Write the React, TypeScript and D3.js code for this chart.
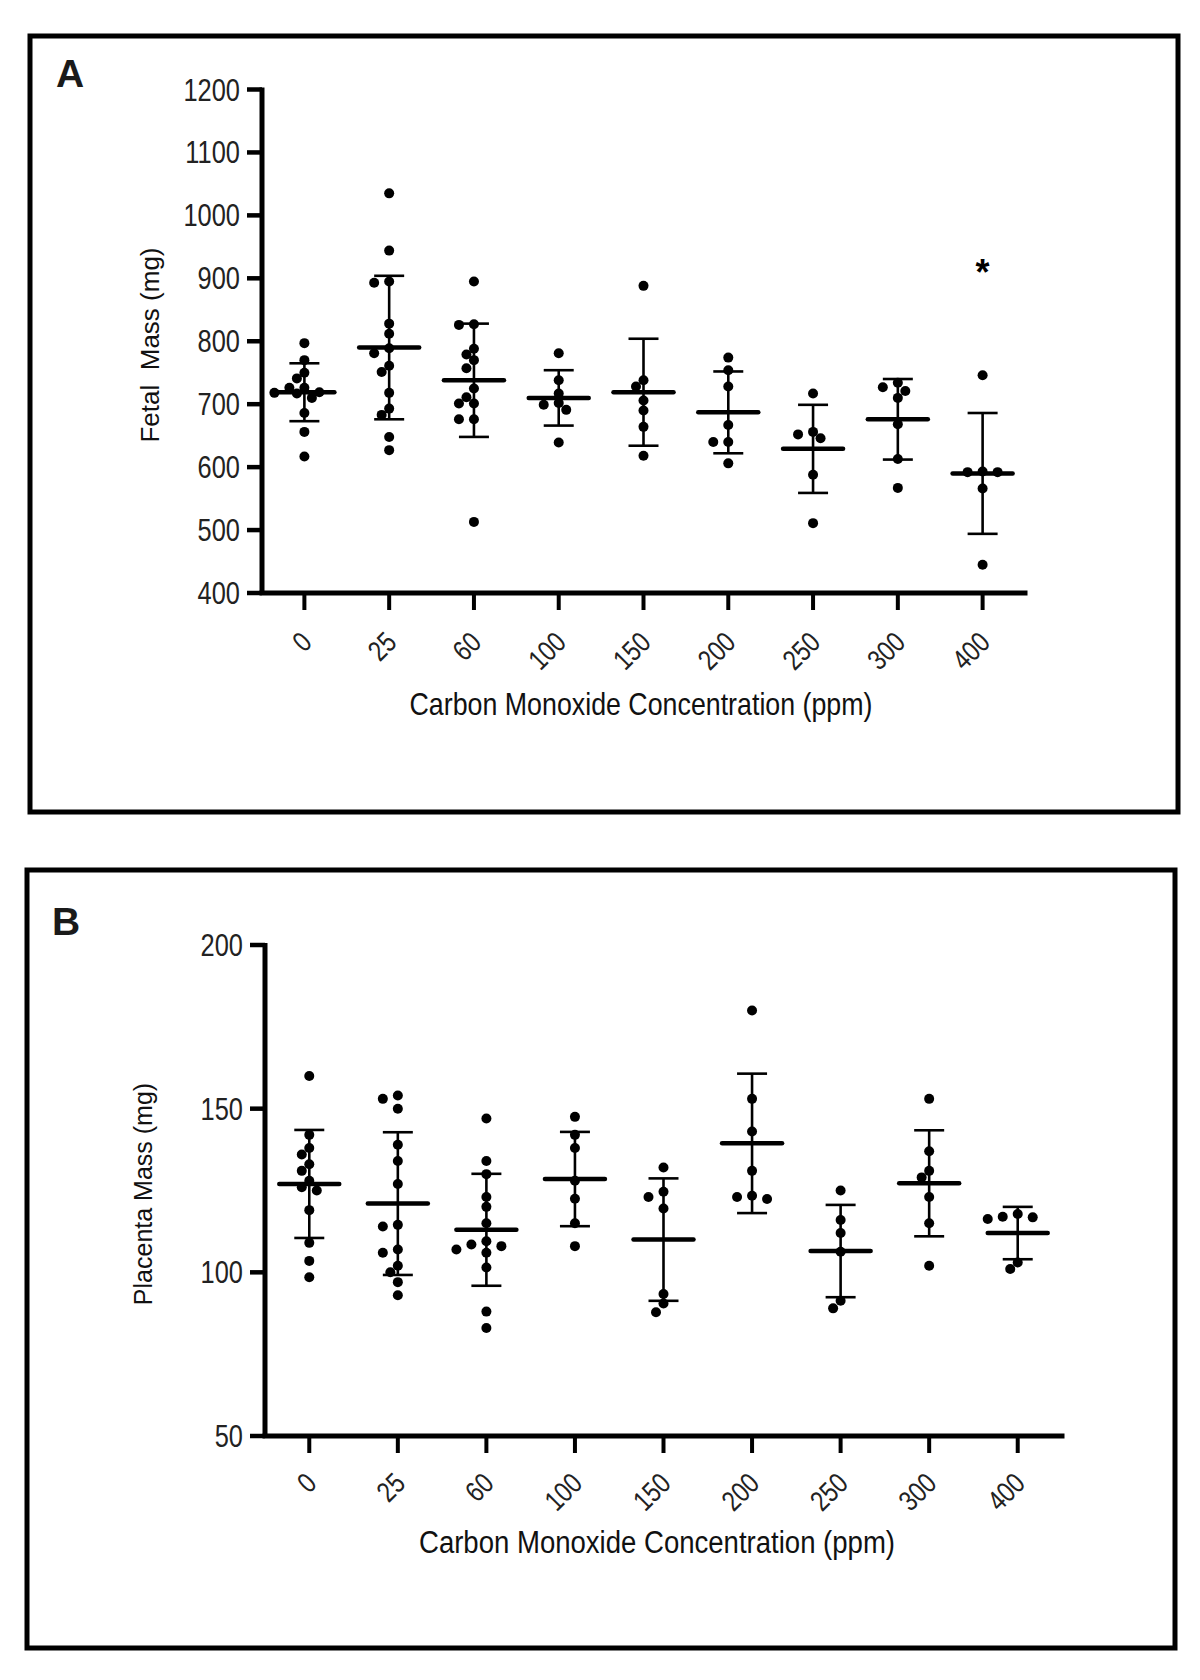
import React from "react";
import * as d3 from "d3";

// ---------- data ----------
const concentrations = ["0", "25", "60", "100", "150", "200", "250", "300", "400"];

// Panel A: fetal mass (mg), individual fetuses per group
const fetal0 = [797, 770, 750, 741, 726, 726, 719, 718, 717, 710, 686, 656, 617];
const fetal25 = [1035, 944, 895, 893, 828, 812, 789, 781, 761, 751, 718, 693, 683, 648, 627];
const fetal60 = [895, 827, 826, 788, 779, 770, 757, 725, 711, 701, 701, 676, 676, 513];
const fetal100 = [781, 738, 717, 702, 699, 691, 639];
const fetal150 = [888, 738, 728, 706, 690, 664, 618];
const fetal200 = [774, 754, 728, 667, 640, 640, 606];
const fetal250 = [717, 656, 652, 646, 588, 511];
const fetal300 = [734, 727, 721, 710, 668, 613, 567];
const fetal400 = [746, 593, 592, 592, 566, 445];
const fetalMean = [719, 790, 738, 710, 719, 687, 629, 676, 590];
const fetalSD = [46, 114, 90, 44, 85, 65, 70, 64, 96];
const fetalTicks = [400, 500, 600, 700, 800, 900, 1000, 1100, 1200];
const fetalSignificant = ["400"];

// Panel B: placenta mass (mg)
const plac0 = [160, 142, 138, 136, 133, 131, 128, 126, 125, 119, 109, 103.5, 98.5];
const plac25 = [154, 153, 150, 139, 134, 127, 114.5, 114, 107, 106, 102, 100, 97, 93];
const plac60 = [147, 134, 130, 123, 120, 115, 109.5, 108.5, 108, 107, 106, 101.5, 88, 83];
const plac100 = [147.5, 142, 138, 128, 122.5, 115, 108];
const plac150 = [132, 124.6, 123, 119.5, 93.4, 90.5, 87.8];
const plac200 = [180, 153, 143, 131, 123.4, 123, 122.4];
const plac250 = [125, 116, 112, 106.3, 91.3, 89];
const plac300 = [153, 137, 131, 129, 123, 115, 102];
const plac400 = [117.8, 117, 116.8, 116.3, 103, 101];
const placMean = [127, 121, 113, 128.5, 110, 139.4, 106.5, 127.2, 112];
const placSD = [16.5, 21.8, 17.1, 14.4, 18.7, 21.3, 14.1, 16.2, 8];
const placTicks = [50, 100, 150, 200];

const fetalGroups = [fetal0, fetal25, fetal60, fetal100, fetal150, fetal200, fetal250, fetal300, fetal400];
const placGroups = [plac0, plac25, plac60, plac100, plac150, plac200, plac250, plac300, plac400];

// ---------- layout ----------
const REG = "'Liberation Sans', Arial, sans-serif";
const CONDENSE = 0.82;

type PanelCfg = {
  letter: string;
  frame: { x: number; y: number; w: number; h: number };
  letterPos: [number, number];
  xRange: [number, number];
  yRange: [number, number];
  domain: [number, number];
  ticks: number[];
  groups: number[][];
  means: number[];
  sds: number[];
  yTitle: string;
  yTitlePos: [number, number];
  yTitleSize: number;
  xTitlePos: [number, number];
  xTitleSize: number;
  xTitleLen: number;
  xLabelDy: number;
  significant: string[];
};

const panels: PanelCfg[] = [
  {
    letter: "A",
    frame: { x: 30, y: 36, w: 1148, h: 776 },
    letterPos: [56, 87],
    xRange: [262, 1025],
    yRange: [593, 89.5],
    domain: [400, 1200],
    ticks: fetalTicks,
    groups: fetalGroups,
    means: fetalMean,
    sds: fetalSD,
    yTitle: "Fetal  Mass (mg)",
    yTitlePos: [159, 345],
    yTitleSize: 26,
    xTitlePos: [641, 715],
    xTitleSize: 32,
    xTitleLen: 463,
    xLabelDy: 51,
    significant: fetalSignificant,
  },
  {
    letter: "B",
    frame: { x: 27, y: 870, w: 1148, h: 778 },
    letterPos: [52, 935],
    xRange: [265, 1062],
    yRange: [1436, 945],
    domain: [50, 200],
    ticks: placTicks,
    groups: placGroups,
    means: placMean,
    sds: placSD,
    yTitle: "Placenta Mass (mg)",
    yTitlePos: [152, 1194],
    yTitleSize: 25,
    xTitlePos: [657, 1553],
    xTitleSize: 31,
    xTitleLen: 476,
    xLabelDy: 49,
    significant: [],
  },
];

function swarm(ys: number[], step: number, minDist: number): number[] {
  const placed: { dx: number; y: number }[] = [];
  const out: number[] = [];
  ys.forEach((y) => {
    let chosen = 0;
    for (let k = 0; k < 40; k++) {
      const n = Math.ceil(k / 2) * (k % 2 === 1 ? -1 : 1);
      const dx = n * step;
      const ok = placed.every((p) => (p.dx - dx) ** 2 + (p.y - y) ** 2 >= minDist * minDist);
      if (ok) {
        chosen = dx;
        break;
      }
    }
    placed.push({ dx: chosen, y });
    out.push(chosen);
  });
  return out;
}

function Panel({ cfg }: { cfg: PanelCfg }) {
  const x = d3.scalePoint<string>().domain(concentrations).range(cfg.xRange).padding(0.5);
  const y = d3.scaleLinear().domain(cfg.domain).range(cfg.yRange);
  const axisX = cfg.xRange[0];
  const axisY = cfg.yRange[0];
  const topY = cfg.yRange[1];
  const f = cfg.frame;
  return (
    <g>
      <rect x={f.x} y={f.y} width={f.w} height={f.h} fill="none" stroke="#000" strokeWidth={5} />
      <text x={cfg.letterPos[0]} y={cfg.letterPos[1]} fontFamily={REG} fontWeight="bold" fontSize={39} fill="#1a1a1a">
        {cfg.letter}
      </text>
      {/* axes */}
      <line x1={axisX} x2={axisX} y1={topY - 2} y2={axisY} stroke="#000" strokeWidth={5} />
      <line x1={axisX} x2={cfg.xRange[1]} y1={axisY} y2={axisY} stroke="#000" strokeWidth={5} strokeLinecap="square" />
      {cfg.ticks.map((t) => (
        <g key={"yt" + t}>
          <line x1={axisX - 15} x2={axisX} y1={y(t)} y2={y(t)} stroke="#000" strokeWidth={4.5} />
          <g transform={`translate(${axisX - 22},${y(t) + 11}) scale(${CONDENSE},1)`}>
            <text textAnchor="end" fontFamily={REG} fontSize={31} fill="#222">
              {t}
            </text>
          </g>
        </g>
      ))}
      {concentrations.map((c) => (
        <g key={"xt" + c}>
          <line x1={x(c)} x2={x(c)} y1={axisY} y2={axisY + 17} stroke="#000" strokeWidth={4} />
          <g transform={`translate(${(x(c) as number) + 9},${axisY + cfg.xLabelDy}) rotate(-45) scale(${CONDENSE},1)`}>
            <text textAnchor="end" fontFamily={REG} fontSize={28.5} fill="#222">
              {c}
            </text>
          </g>
        </g>
      ))}
      <text
        x={cfg.xTitlePos[0]}
        y={cfg.xTitlePos[1]}
        textAnchor="middle"
        fontFamily={REG}
        fontSize={cfg.xTitleSize}
        textLength={cfg.xTitleLen}
        lengthAdjust="spacingAndGlyphs"
        fill="#111"
      >
        Carbon Monoxide Concentration (ppm)
      </text>
      <text
        transform={`translate(${cfg.yTitlePos[0]},${cfg.yTitlePos[1]}) rotate(-90)`}
        textAnchor="middle"
        fontFamily={REG}
        fontSize={cfg.yTitleSize}
        fill="#111"
        style={{ whiteSpace: "pre" }}
      >
        {cfg.yTitle}
      </text>
      {/* data */}
      {cfg.groups.map((vals, i) => {
        const c = concentrations[i];
        const cx = x(c) as number;
        const ys = vals.map((v) => y(v));
        const offs = swarm(ys, 7.5, 9.2);
        const m = cfg.means[i];
        const sd = cfg.sds[i];
        return (
          <g key={"g" + c}>
            <line x1={cx} x2={cx} y1={y(m + sd)} y2={y(m - sd)} stroke="#000" strokeWidth={2.6} />
            <line x1={cx - 15} x2={cx + 15} y1={y(m + sd)} y2={y(m + sd)} stroke="#000" strokeWidth={2.6} />
            <line x1={cx - 15} x2={cx + 15} y1={y(m - sd)} y2={y(m - sd)} stroke="#000" strokeWidth={2.6} />
            <line x1={cx - 30} x2={cx + 30} y1={y(m)} y2={y(m)} stroke="#000" strokeWidth={4.5} strokeLinecap="round" />
            {ys.map((yy, j) => (
              <circle key={j} cx={cx + offs[j]} cy={yy} r={5} fill="#000" />
            ))}
            {cfg.significant.includes(c) && (
              <text x={cx} y={y(d3.max(vals) as number) - 90} textAnchor="middle" fontFamily={REG} fontWeight="bold" fontSize={36} fill="#000">
                *
              </text>
            )}
          </g>
        );
      })}
    </g>
  );
}

export default function App() {
  return (
    <svg
      width={1200}
      height={1680}
      viewBox="0 0 1200 1680"
      style={{ position: "absolute", left: 0, top: 0, background: "#fff" }}
    >
      <rect x={0} y={0} width={1200} height={1680} fill="#fff" />
      {panels.map((p) => (
        <Panel key={p.letter} cfg={p} />
      ))}
    </svg>
  );
}
